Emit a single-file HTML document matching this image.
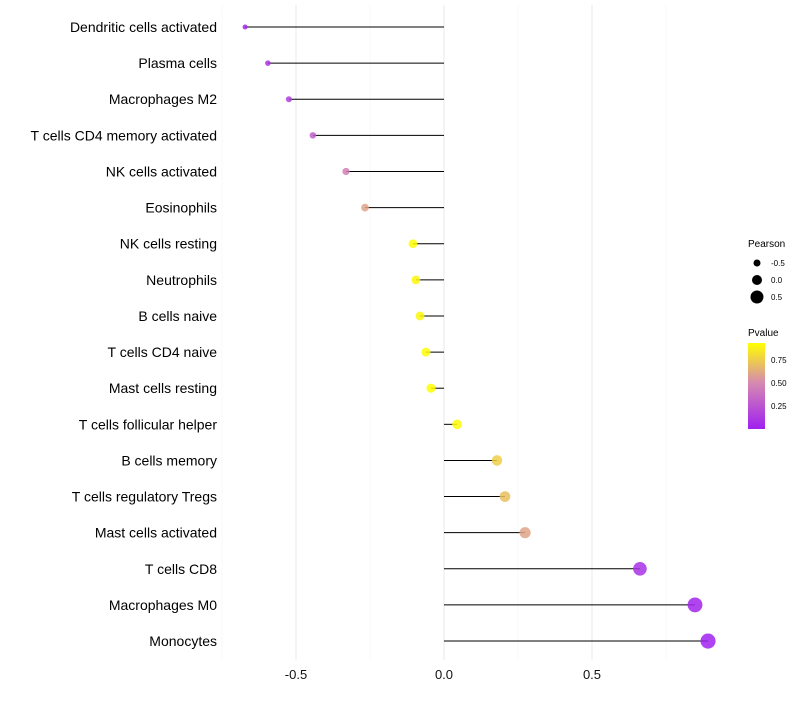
<!DOCTYPE html>
<html><head><meta charset="utf-8"><style>
body{margin:0;background:#fff;font-family:"Liberation Sans",sans-serif}
</style></head><body>
<svg id="chart" width="800" height="700" xmlns="http://www.w3.org/2000/svg">
<defs><linearGradient id="pg" x1="0" y1="1" x2="0" y2="0">
<stop offset="0" stop-color="#A020F0"/><stop offset="0.54" stop-color="#D68AB0"/><stop offset="1" stop-color="#FFFF00"/></linearGradient></defs>
<g id="grid"></g><g id="marks"></g><g id="labels"></g>
<g>
<text x="748" y="247" font-size="10">Pearson</text>
<circle cx="757" cy="263" r="3.5" fill="#000"/>
<text x="771" y="266" font-size="8">-0.5</text>
<circle cx="757" cy="280" r="5" fill="#000"/>
<text x="771" y="283" font-size="8">0.0</text>
<circle cx="757" cy="297" r="6.5" fill="#000"/>
<text x="771" y="300" font-size="8">0.5</text>
<text x="748" y="336" font-size="10">Pvalue</text>
<rect x="748" y="343" width="17" height="86" fill="url(#pg)"/>
<text x="771" y="363" font-size="8">0.75</text>
<text x="771" y="386" font-size="8">0.50</text>
<text x="771" y="409" font-size="8">0.25</text>
</g>
</svg>
<script>
const cells=["Dendritic cells activated","Plasma cells","Macrophages M2","T cells CD4 memory activated","NK cells activated","Eosinophils","NK cells resting","Neutrophils","B cells naive","T cells CD4 naive","Mast cells resting","T cells follicular helper","B cells memory","T cells regulatory  Tregs ","Mast cells activated","T cells CD8","Macrophages M0","Monocytes"];
const pearson=[-0.672,-0.595,-0.524,-0.443,-0.331,-0.267,-0.105,-0.095,-0.081,-0.061,-0.044,0.044,0.179,0.206,0.274,0.662,0.848,0.892];
const pvalue=[0.03,0.1,0.15,0.3,0.45,0.6,0.92,0.9,0.9,0.92,0.93,0.92,0.75,0.7,0.6,0.08,0.02,0.01];
const xTicks=[-0.5,0,0.5];
const xTickLabels=["-0.5","0.0","0.5"];
const minorTicks=[-0.75,-0.25,0.25,0.75];
const NS="http://www.w3.org/2000/svg";
const X=v=>444+v*296, Y=i=>27+i*36.12;
const R=v=>4.7+v*3.2;
function lerp(a,b,t){return a.map((c,k)=>Math.round(c+(b[k]-c)*t));}
function col(p){let t=Math.min(1,Math.max(0,p/0.93));const s=[[160,32,240],[214,138,176],[255,255,0]];
 let c=t<0.54?lerp(s[0],s[1],t/0.54):lerp(s[1],s[2],(t-0.54)/0.46);return `rgb(${c})`;}
function mk(t,a,p){const e=document.createElementNS(NS,t);for(const k in a)e.setAttribute(k,a[k]);p.appendChild(e);return e;}
const g=document.getElementById('grid'),m=document.getElementById('marks'),l=document.getElementById('labels');
minorTicks.forEach(v=>{const e=mk('line',{x1:X(v),x2:X(v),y1:5,y2:660,stroke:'#f4f4f4','stroke-width':0.6},g);

});
xTicks.forEach((v,i)=>{const e=mk('line',{x1:X(v),x2:X(v),y1:5,y2:660,stroke:'#ebebeb','stroke-width':1.1},g);


const t=mk('text',{x:X(v),y:679,'font-size':13,'text-anchor':'middle',fill:'#111'},l);t.textContent=xTickLabels[i];

});
cells.forEach((c,i)=>{const y=Y(i);
const ln=mk('line',{x1:X(0),x2:X(pearson[i]),y1:y,y2:y,stroke:'#000','stroke-width':1},m);


const ci=mk('circle',{cx:X(pearson[i]),cy:y,r:R(pearson[i]),fill:col(pvalue[i]),'fill-opacity':0.85},m);


const t=mk('text',{x:217,y:y+5,'font-size':14,'text-anchor':'end',fill:'#000'},l);t.textContent=c;

});
</script>
</body></html>
